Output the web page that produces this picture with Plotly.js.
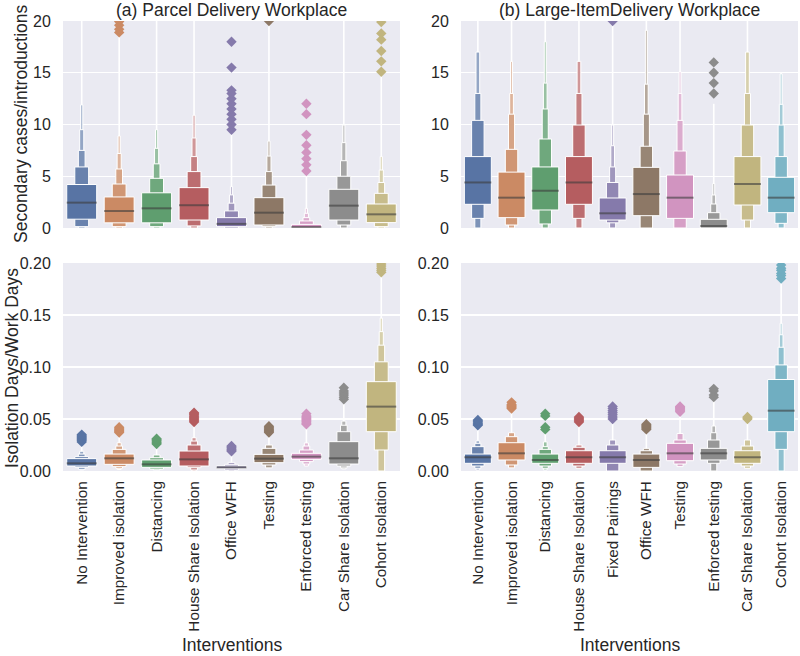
<!DOCTYPE html>
<html><head><meta charset="utf-8">
<script src="https://cdn.plot.ly/plotly-3.0.1.min.js"></script>
<style>html,body{margin:0;padding:0;background:#fff}#chart{width:800px;height:656px}</style>
</head><body><div id="chart"></div>
<script>
// ---------------- DATA ----------------
const catsA = ["No Intervention","Improved isolation","Distancing","House Share Isolation","Office WFH","Testing","Enforced testing","Car Share Isolation","Cohort Isolation"];
const catsB = ["No Intervention","Improved isolation","Distancing","House Share Isolation","Fixed Pairings","Office WFH","Testing","Enforced testing","Car Share Isolation","Cohort Isolation"];

const colorsA = ["#5874A4","#CB8A64","#5F9E6F","#B55D60","#857AAB","#8D7866","#D194C0","#8C8C8C","#C1B57F"];
const colorsB = ["#5874A4","#CB8A64","#5F9E6F","#B55D60","#857AAB","#8D7866","#D194C0","#8C8C8C","#C1B57F","#70AEC1"];

// (a) top: secondary cases / introductions  -- letter-value boxes [low, high], widest first
const aTopMed = [2.45, 1.64, 1.9, 2.2, 0.4, 1.48, 0.1, 2.16, 1.32];
const aTopLevels = [
  [[0.85,4.2],[0.13,5.9],[0,7.5],[0,9.5],[0,11.9]],
  [[0.5,3.0],[0.13,4.25],[0,5.7],[0,7.2],[0,8.9]],
  [[0.5,3.4],[0.13,4.8],[0,6.2],[0,7.7],[0,9.5]],
  [[0.77,3.9],[0.2,5.45],[0,6.9],[0,8.7],[0,10.9]],
  [[0.13,1.0],[0,1.65],[0,2.4],[0,3.2],[0,4.0]],
  [[0.29,2.93],[0.13,4.15],[0,5.45],[0,6.95],[0,8.4]],
  [[0.02,0.35],[0,0.68],[0,1.0],[0,1.42],[0,1.9]],
  [[0.77,3.74],[0.29,5.0],[0,6.5],[0,8.25],[0,9.95]],
  [[0.52,2.32],[0.13,3.35],[0,4.4],[0,5.6],[0,6.9]]
];
const aTopTail = [21, 18.9, 21, 21, 9.5, 19.9, 5.5, 21, 15.1];
const aTopOut = [
  [], [18.9,19.2,19.6,19.95], [], [],
  [9.5,10,10.5,11,11.5,12,12.5,13,13.3,15.5,18],
  [20], [5.5,6.1,6.7,7.3,8,9,11,12], [],
  [15.1,16.1,17.1,18.2,18.8,19.9]
];

// (a) bottom: isolation days / work days
const aBotMed = [0.0074, 0.0122, 0.0064, 0.0112, 0.0035, 0.0119, 0.0138, 0.0122, 0.0619];
const aBotLevels = [
  [[0.0048,0.0119],[0.0035,0.0138],[0.0016,0.0163],[0.001,0.019]],
  [[0.0064,0.0163],[0.0042,0.0208],[0.0026,0.024],[0.0015,0.0272]],
  [[0.0035,0.0106],[0.0019,0.0128],[0.001,0.0154]],
  [[0.0048,0.0192],[0.0032,0.025],[0.001,0.0288],[0,0.032]],
  [[0.0026,0.0048],[0.001,0.0064],[0,0.0083]],
  [[0.008,0.016],[0.0058,0.0218],[0.003,0.025]],
  [[0.0112,0.017],[0.009,0.0202],[0.0067,0.024],[0.0048,0.027]],
  [[0.0067,0.0282],[0.0048,0.0378],[0.003,0.044],[0.002,0.048]],
  [[0.0378,0.0859],[0.0202,0.105],[0,0.121],[0,0.134],[0,0.147]]
];
const aBotTail = [0.028, 0.037, 0.026, 0.047, 0.019, 0.037, 0.045, 0.069, 0.191];
const aBotOut = [
  [0.028,0.029,0.030,0.031,0.032,0.033,0.034,0.035],
  [0.037,0.038,0.039,0.040,0.041,0.042],
  [0.026,0.027,0.028,0.029,0.030,0.031],
  [0.047,0.048,0.049,0.050,0.051,0.052,0.053,0.054,0.055,0.056],
  [0.019,0.020,0.021,0.022,0.023,0.024],
  [0.037,0.038,0.039,0.040,0.041,0.042,0.043],
  [0.045,0.046,0.047,0.048,0.049,0.050,0.051,0.052,0.053,0.055],
  [0.069,0.071,0.073,0.075,0.077,0.080],
  [0.191,0.193,0.195,0.197,0.199]
];

// (b) top
const bTopMed = [4.4, 2.93, 3.6, 4.4, 1.42, 3.28, 2.93, 0.19, 4.25, 2.93];
const bTopLevels = [
  [[2.29,6.9],[0.93,10.4],[0,13.0],[0,17.0]],
  [[1.0,5.4],[0.29,7.6],[0,11.0],[0,13.0],[0,16.1]],
  [[1.74,5.9],[0.39,8.6],[0,11.5],[0,14.0],[0,18.0]],
  [[2.29,6.9],[0.93,9.95],[0,13.0],[0,16.1]],
  [[0.77,2.9],[0.5,4.4],[0,5.9],[0,7.95],[0,9.95]],
  [[1.19,5.86],[0,7.9],[0,11.0],[0,13.9],[0,19.1]],
  [[0.93,5.12],[0,7.44],[0,10.4],[0,13.0],[0,15.1]],
  [[0,0.84],[0,1.48],[0,2.32],[0,3.19],[0,4.3]],
  [[2.22,6.9],[0.77,9.95],[0,13.0],[0,17.0]],
  [[1.48,4.9],[0.45,6.9],[0,9.95],[0,11.95],[0,14.9]]
];
const bTopTail = [21, 21, 21, 21, 19.9, 21, 21, 12, 21, 15];
const bTopOut = [[],[],[],[],[20],[],[],[13,14,15,16],[],[]];

// (b) bottom
const bBotMed = [0.0132, 0.017, 0.0106, 0.0132, 0.0132, 0.0106, 0.017, 0.017, 0.0132, 0.058];
const bBotLevels = [
  [[0.0074,0.0163],[0.0048,0.0234],[0.0026,0.0266],[0.001,0.029]],
  [[0.0106,0.0272],[0.0058,0.033],[0.003,0.0368]],
  [[0.0074,0.0163],[0.0048,0.0208],[0.0026,0.0234],[0.001,0.028]],
  [[0.0074,0.0195],[0.0048,0.0228],[0.0026,0.025]],
  [[0.0074,0.0195],[0,0.025],[0,0.0298]],
  [[0.0035,0.0163],[0,0.0195],[0,0.0218]],
  [[0.0099,0.0266],[0.0067,0.0298],[0.0042,0.036]],
  [[0.0106,0.0218],[0.0074,0.0298],[0,0.0368],[0,0.0433]],
  [[0.0074,0.0195],[0.0048,0.024],[0.0026,0.0298]],
  [[0.0378,0.088],[0.0208,0.102],[0,0.119],[0,0.131],[0,0.142]]
];
const bBotTail = [0.044, 0.060, 0.040, 0.047, 0.050, 0.040, 0.057, 0.071, 0.050, 0.185];
const bBotOut = [
  [0.044,0.045,0.046,0.047,0.048,0.049],
  [0.060,0.061,0.062,0.063,0.064,0.066],
  [0.040,0.042,0.053,0.055],
  [0.047,0.048,0.049,0.050,0.051,0.052],
  [0.050,0.052,0.054,0.056,0.058,0.060,0.062],
  [0.040,0.041,0.042,0.043,0.044,0.045],
  [0.057,0.058,0.059,0.060,0.061,0.062],
  [0.071,0.073,0.077,0.079],
  [0.050,0.051,0.052],
  [0.185,0.188,0.190,0.193,0.195,0.198]
];

// ---------------- STYLE ----------------
const levelWidths = [0.8, 0.37, 0.18, 0.11, 0.06, 0.04];
const levelFade = [0, 0.1, 0.22, 0.36, 0.5, 0.6];
const FONT = "Liberation Sans, Arial, sans-serif";
const TXT = "#262626";

function hexToRgb(h){h=h.replace('#','');return [parseInt(h.slice(0,2),16),parseInt(h.slice(2,4),16),parseInt(h.slice(4,6),16)];}
function fade(hex,f){const c=hexToRgb(hex);return 'rgb('+c.map(v=>Math.round(v+(255-v)*f)).join(',')+')';}

const traces = [];
function panel(levels, med, tail, outs, colors, xs, ys){
  const nLev = Math.max(...levels.map(l=>l.length));
  const tx=[], ty=[];
  levels.forEach((lv,i)=>{
    const top = lv[lv.length-1][1];
    if (tail[i] > top){ tx.push(i,i,null); ty.push(top,tail[i],null); }
  });
  traces.push({type:'scatter',mode:'lines',x:tx,y:ty,xaxis:xs,yaxis:ys,line:{color:'white',width:1.6},hoverinfo:'skip',showlegend:false});
  for (let k=nLev-1;k>=0;k--){
    const x=[],base=[],h=[],col=[];
    levels.forEach((lv,i)=>{ if(lv[k]){x.push(i);base.push(lv[k][0]);h.push(lv[k][1]-lv[k][0]);col.push(fade(colors[i],levelFade[k]));} });
    traces.push({type:'bar',x:x,y:h,base:base,width:levelWidths[k],xaxis:xs,yaxis:ys,
      marker:{color:col,line:{color:'white',width:1}},hoverinfo:'skip',showlegend:false});
  }
  const mx=[],my=[];
  med.forEach((m,i)=>{ mx.push(i-levelWidths[0]/2,i+levelWidths[0]/2,null); my.push(m,m,null); });
  traces.push({type:'scatter',mode:'lines',x:mx,y:my,xaxis:xs,yaxis:ys,line:{color:'rgba(60,60,60,0.6)',width:2},hoverinfo:'skip',showlegend:false});
  const ox=[],oy=[],oc=[];
  outs.forEach((arr,i)=>arr.forEach(v=>{ox.push(i);oy.push(v);oc.push(colors[i]);}));
  traces.push({type:'scatter',mode:'markers',x:ox,y:oy,xaxis:xs,yaxis:ys,
    marker:{symbol:'diamond',size:8,color:oc,line:{width:0}},hoverinfo:'skip',showlegend:false});
}
panel(aTopLevels,aTopMed,aTopTail,aTopOut,colorsA,'x','y');
panel(bTopLevels,bTopMed,bTopTail,bTopOut,colorsB,'x2','y2');
panel(aBotLevels,aBotMed,aBotTail,aBotOut,colorsA,'x3','y3');
panel(bBotLevels,bBotMed,bBotTail,bBotOut,colorsB,'x4','y4');

const W=800,H=656;
const domA=[63/W,400/W], domB=[461/W,798/W];
const domTop=[1-228/H,1-21/H], domBot=[1-471/H,1-263/H];

function xax(dom,cats,showLabels,anchor){
  return {domain:dom,anchor:anchor,range:[-0.5,cats.length-0.5],tickmode:'array',
    tickvals:cats.map((c,i)=>i),ticktext:cats,showticklabels:showLabels,tickangle:-90,
    showgrid:false,zeroline:false,showline:false,ticks:showLabels?'outside':'',ticklen:3,tickcolor:'rgba(0,0,0,0)',
    tickfont:{family:FONT,size:15.3,color:TXT},fixedrange:true};
}
function yax(dom,range,dtick,fmt,anchor){
  return {domain:dom,anchor:anchor,range:range,dtick:dtick,tickformat:fmt,showgrid:true,gridcolor:'white',gridwidth:1.2,
    zeroline:false,showline:false,ticks:'outside',ticklen:8,tickcolor:'rgba(0,0,0,0)',
    tickfont:{family:FONT,size:16,color:TXT},fixedrange:true};
}

const layout = {
  width:W,height:H,margin:{l:0,r:0,t:0,b:0},paper_bgcolor:'white',plot_bgcolor:'#EAEAF2',
  barmode:'overlay',bargap:0,showlegend:false,font:{family:FONT,color:TXT},
  xaxis: xax(domA,catsA,false,'y'),
  yaxis: yax(domTop,[0,20],5,'d','x'),
  xaxis2: xax(domB,catsB,false,'y2'),
  yaxis2: yax(domTop,[0,20],5,'d','x2'),
  xaxis3: xax(domA,catsA,true,'y3'),
  yaxis3: yax(domBot,[0,0.2],0.05,'.2f','x3'),
  xaxis4: xax(domB,catsB,true,'y4'),
  yaxis4: yax(domBot,[0,0.2],0.05,'.2f','x4'),
  annotations:[
    {text:'(a) Parcel Delivery Workplace',xref:'paper',yref:'paper',x:(domA[0]+domA[1])/2,y:1-10/H,xanchor:'center',yanchor:'middle',showarrow:false,font:{family:FONT,size:17.5,color:TXT}},
    {text:'(b) Large-ItemDelivery Workplace',xref:'paper',yref:'paper',x:(domB[0]+domB[1])/2,y:1-10/H,xanchor:'center',yanchor:'middle',showarrow:false,font:{family:FONT,size:17.5,color:TXT}},
    {text:'Secondary cases/introductions',xref:'paper',yref:'paper',x:21/W,y:1-124/H,xanchor:'center',yanchor:'middle',textangle:-90,showarrow:false,font:{family:FONT,size:17.5,color:TXT}},
    {text:'Isolation Days/Work Days',xref:'paper',yref:'paper',x:12/W,y:1-368/H,xanchor:'center',yanchor:'middle',textangle:-90,showarrow:false,font:{family:FONT,size:17.5,color:TXT}},
    {text:'Interventions',xref:'paper',yref:'paper',x:(domA[0]+domA[1])/2,y:1-645/H,xanchor:'center',yanchor:'middle',showarrow:false,font:{family:FONT,size:17.5,color:TXT}},
    {text:'Interventions',xref:'paper',yref:'paper',x:(domB[0]+domB[1])/2,y:1-645/H,xanchor:'center',yanchor:'middle',showarrow:false,font:{family:FONT,size:17.5,color:TXT}}
  ]
};
Plotly.newPlot('chart',traces,layout,{staticPlot:true,displayModeBar:false});
</script></body></html>
